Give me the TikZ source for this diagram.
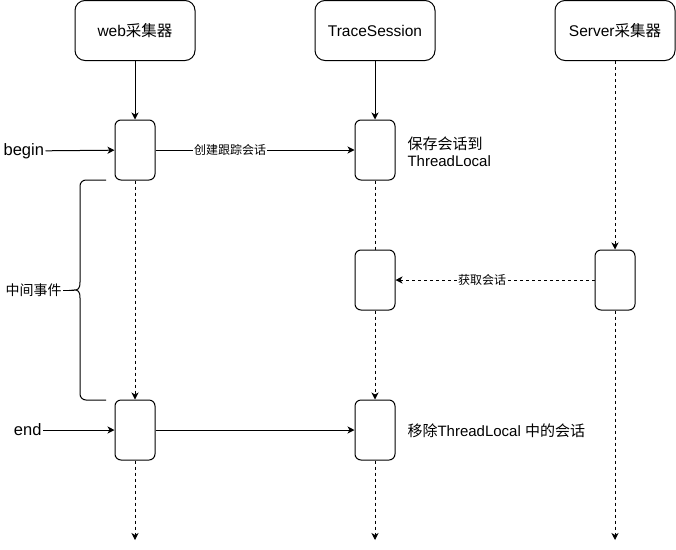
\documentclass[tikz,border=0pt]{standalone}
\usepackage{fontspec}
\setmainfont{Liberation Sans}
\newfontfamily\cjk{Noto Sans CJK SC}
\usetikzlibrary{arrows.meta}

\begin{document}
\begin{tikzpicture}[x=1pt,y=-1pt,line width=1pt,
    head/.style={draw,rounded corners=10pt,minimum width=120pt,minimum height=60pt,font=\fontsize{15.5}{17}\selectfont},
    act/.style={draw,rounded corners=6pt,minimum width=40pt,minimum height=60pt,inner sep=0pt},
    txt/.style={inner sep=1pt,font=\fontsize{15}{17}\selectfont},
    lbl/.style={fill=white,inner sep=1pt,font=\fontsize{12}{14}\selectfont\cjk},
    flow/.style={-{Stealth[length=7pt,width=7pt,inset=2pt]}},
    dash3/.style={dash pattern=on 3pt off 3pt}]
    \useasboundingbox (0,0) rectangle (676,549);

    % 绘制三条生命线的头部
    \node[head] (hdweb) at (135,30.5) {web{\cjk 采集器}};
    \node[head] (hdtrace) at (375,30.5) {TraceSession};
    \node[head] (hdserver) at (615,30.5) {Server{\cjk 采集器}};

    % 激活框
    \node[act] (actweb1) at (135,150) {};
    \node[act] (acttrace1) at (375,150) {};
    \node[act] (acttrace2) at (375,280) {};
    \node[act] (actserver) at (615,280) {};
    \node[act] (actweb2) at (135,430) {};
    \node[act] (acttrace3) at (375,430) {};

    \coordinate (bweb) at (135,540);
    \coordinate (btrace) at (375,540);
    \coordinate (bserver) at (615,540);

    % 生命线
    \draw[flow] (hdweb) -- (actweb1);
    \draw[flow] (hdtrace) -- (acttrace1);
    \draw[flow,dash3] (hdserver) -- (actserver);
    \draw[flow,dash3] (actweb1) -- (actweb2);
    \draw[dash3] (acttrace1) -- (acttrace2);
    \draw[flow,dash3] (acttrace2) -- (acttrace3);
    \draw[flow,dash3] (actweb2) -- (bweb);
    \draw[flow,dash3] (acttrace3) -- (btrace);
    \draw[flow,dash3] (actserver) -- (bserver);

    % 消息
    \node[txt,anchor=east,font=\fontsize{16.5}{18}\selectfont] (tbegin) at (45.5,151) {begin};
    \node[txt,anchor=east,font=\fontsize{16.5}{18}\selectfont] (tend) at (43,430) {end};
    \draw[flow] (tbegin) -- (actweb1);
    \draw[flow] (tend) -- (actweb2);
    \draw[flow] (actweb1) -- node[lbl,pos=0.375] {创建跟踪会话} (acttrace1);
    \draw[flow,dash3] (actserver) -- node[lbl,pos=0.565] {获取会话} (acttrace2);
    \draw[flow] (actweb2) -- (acttrace3);

    \node[txt,anchor=west,align=left] (tsave) at (406,151.5) {{\cjk 保存会话到}\\ThreadLocal};
    \node[txt,anchor=west] (tremove) at (406,431) {{\cjk 移除}ThreadLocal {\cjk 中的会话}};

    % 中间事件的大括号
    \node[txt,anchor=east,font=\fontsize{14}{16}\selectfont\cjk] (tmid) at (63,290) {中间事件};
    \coordinate (cusp) at (74,290);
    \draw[rounded corners=6pt] (106,180) -- (80,180) -- (80,282);
    \draw (80,282) .. controls (80,289) and (78,290) .. (cusp)
        .. controls (78,290) and (80,291) .. (80,298);
    \draw[rounded corners=6pt] (80,298) -- (80,400) -- (106,400);
    \draw (tmid) -- (cusp);

\end{tikzpicture}
\end{document}
